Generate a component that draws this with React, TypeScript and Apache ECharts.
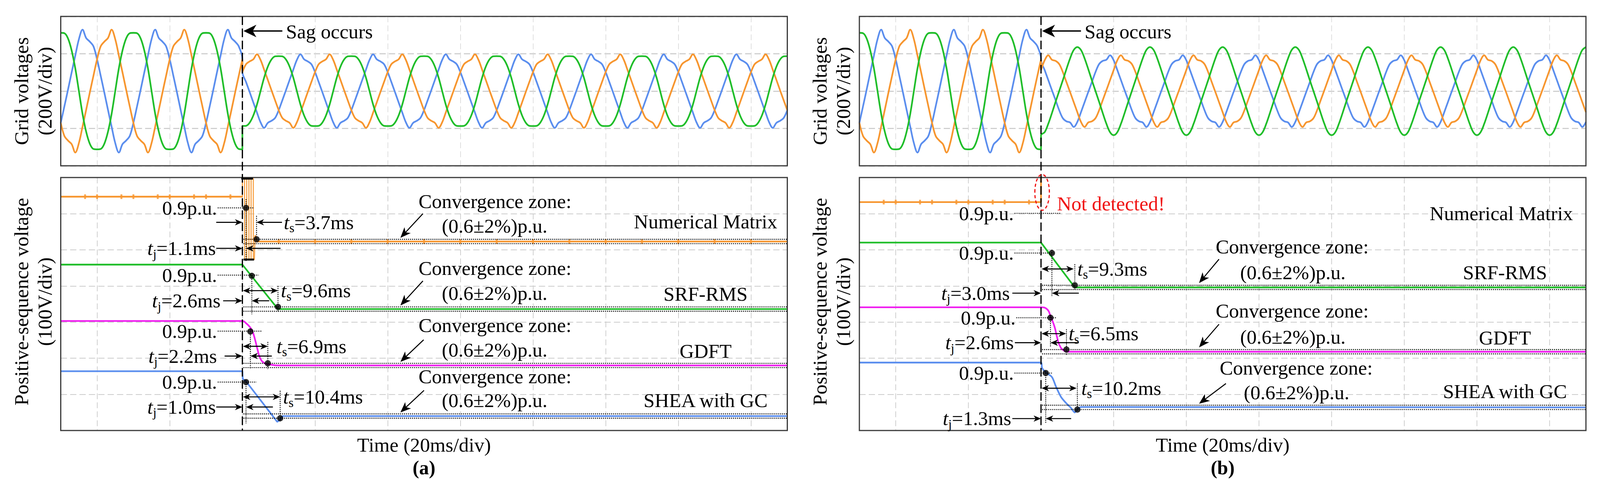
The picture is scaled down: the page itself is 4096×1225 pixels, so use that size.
import React, { useEffect, useRef } from "react";
import * as echarts from "echarts";

const FONT = '"Liberation Serif", "Times New Roman", Times, serif';
const FS = 51;
const FS_SUB = 33;

const ORANGE = "#F7962F";
const BLUE = "#5B8EEE";
const GREEN = "#20BE2A";
const MAGENTA = "#F020F0";
const RED = "#F01212";

// time axis in ms, sag at t = 0 (20 ms/div)
const T_MIN = -50;
const T_MAX = 150;
const T_DIV = 20;

// ---------- grid voltages (V): one period, 1 ms apart, starting at each phase crest
const blueBefore = [329, 284, 265, 240, 170, 82, -8, -100, -190, -278, -329, -284, -265, -240, -170, -82, 8, 100, 190, 278];
const orangeBefore = [329, 278, 190, 100, 8, -82, -170, -240, -265, -284, -329, -278, -190, -100, -8, 82, 170, 240, 265, 284];
const greenBefore = [312, 310, 282, 218, 122, 0, -122, -218, -282, -310, -312, -310, -282, -218, -122, 0, 122, 218, 282, 310];

const blueAfterA = [197, 170, 159, 144, 102, 49, -5, -60, -114, -167, -197, -170, -159, -144, -102, -49, 5, 60, 114, 167];
const orangeAfterA = [197, 167, 114, 60, 5, -49, -102, -144, -159, -170, -197, -167, -114, -60, -5, 49, 102, 144, 159, 170];
const greenAfterA = [187, 186, 169, 131, 73, 0, -73, -131, -169, -186, -187, -186, -169, -131, -73, 0, 73, 131, 169, 186];

const orangeAfterB = [192, 168, 162, 145, 102, 48, -5, -59, -113, -165, -192, -168, -162, -145, -102, -48, 5, 59, 113, 165];
const blueAfterB = [192, 165, 113, 59, 5, -48, -102, -145, -162, -168, -192, -165, -113, -59, -5, 48, 102, 145, 162, 168];
const greenAfterB = [236, 220, 175, 118, 58, 0, -58, -118, -175, -220, -236, -220, -175, -118, -58, 0, 58, 118, 175, 220];

// crest times (ms) of blue, orange, green
const crestBefore = [-44, -36, -30];
const crestAfterA = [-44, -36, -30];
const crestAfterB = [-1, 2, 10];

// ---------- positive-sequence voltage traces (V, displayed with offsets)
const nmPreA = [[-50, 647], [0, 647]];
const nmBandA = [[0, 647], [0, 697], [0.6, 697], [0.6, 473], [1.2, 473], [1.2, 697], [1.8, 697], [1.8, 473], [2.4, 473], [2.4, 697], [3.0, 697], [3.0, 473], [3.3, 473], [3.5, 540]];
const nmPostA = [[3.5, 540], [3.8, 528], [4.1, 523], [150, 523]];
const srfA = [[-50, 459], [0, 459], [9.8, 336], [150, 336]];
const gdftA = [[-50, 303], [0, 303], [1.0, 297], [2.1, 286], [2.8, 274], [3.5, 251], [4.2, 223], [4.9, 200], [6.0, 187], [7.4, 183], [10.2, 180], [150, 180]];
const sheaA = [[-50, 164], [0, 164], [0.1, 143], [1.0, 136], [9.6, 24], [10.4, 30], [11.0, 40], [150, 40]];

const nmB = [[-50, 632], [0, 632], [0, 760]];
const srfB = [[-50, 520], [0, 520], [9.3, 396], [150, 396]];
const gdftB = [[-50, 341], [0, 341], [1.5, 337], [2.8, 312], [3.7, 288], [4.4, 259], [5.1, 236], [6.2, 222], [7.6, 218], [150, 218]];
const sheaB = [[-50, 188], [0, 188], [0.3, 173], [1.3, 161], [3.0, 148], [4.1, 122], [5.5, 93], [6.9, 76], [8.3, 62], [9.3, 50], [10.0, 59], [11.1, 65], [150, 64]];

const nmMarksPre = [-43.3, -40, -33.3, -30, -23.3, -20, -13.3, -10, -3.3];
const nmMarksPostA = [10, 20, 30, 40, 50, 60, 70, 80, 90, 100, 110, 120, 130, 140];
const nmLevelPreA = 647;
const nmLevelPostA = 523;
const nmLevelPreB = 632;
const ZONE = 6; // ±2 % of 1 p.u. (≈310 V)

const methodNames = ["Numerical Matrix", "SRF-RMS", "GDFT", "SHEA with GC"];

// ---------- annotation layout (data coordinates of each plot)
const annA = [
  { label09: [-7.0, 616], leader: [-6.8, 3.0], dots: [[1.0, 616], [3.9, 529]], vlines: [[1.0, 640, 469], [3.9, 594, 526]],
    ts: { mode: "out", v: 576, tailL: -7.2, tip: 3.9, tailR: 10.9, textT: 11.4, value: "=3.7ms" },
    tj: { v: 504, textT: -7.3, tailL: -7.2, tip: 1.0, tailR: 10.5, value: "=1.1ms" },
    zone: 523, conv: { arrow: [49.7, 600, 43.5, 533], l1: [48.5, 634], l2: [54.9, 566] }, method: [127.5, 578] },
  { label09: [-7.0, 430], leader: [-6.8, 4.5], dots: [[2.6, 428], [9.8, 342]], vlines: [[2.6, 436, 322], [9.8, 400, 330]],
    ts: { mode: "in", v: 387, tip: 9.8, textT: 10.6, value: "=9.6ms" },
    tj: { v: 359, textT: -6.0, tailL: -5.3, tip: 2.6, tailR: 7.4, value: "=2.6ms" },
    zone: 336, conv: { arrow: [49.7, 414, 43.5, 346], l1: [48.5, 449], l2: [54.9, 380] }, method: [127.5, 378] },
  { label09: [-7.0, 275], leader: [-6.8, 5.3], dots: [[2.2, 274], [7.0, 186]], vlines: [[2.2, 282, 170], [7.0, 245, 170]],
    ts: { mode: "in", v: 233, tip: 7.0, textT: 9.4, value: "=6.9ms" },
    tj: { v: 206, textT: -7.0, tailL: -4.9, tip: 2.2, tailR: 8.1, value: "=2.2ms" },
    zone: 180, conv: { arrow: [49.9, 251, 43.5, 190], l1: [48.5, 291], l2: [54.9, 223] }, method: [127.5, 220] },
  { label09: [-7.0, 134], leader: [-6.8, 3.9], dots: [[1.0, 134], [10.4, 34]], vlines: [[1.0, 140, 20], [10.4, 110, 25]],
    ts: { mode: "in", v: 93, tip: 10.4, textT: 11.2, value: "=10.4ms" },
    tj: { v: 65, textT: -7.3, tailL: -7.2, tip: 1.0, tailR: 8.4, value: "=1.0ms" },
    zone: 40, conv: { arrow: [50, 111, 43.5, 50], l1: [48.5, 149], l2: [54.9, 83] }, method: [127.5, 83] },
];

const annB = [
  { label09: [-7.5, 601], leader: [-7.3, 5.4], method: [126.7, 600] },
  { label09: [-7.5, 491], leader: [-7.3, 3.5], dots: [[3.0, 491], [9.3, 402]], vlines: [[3.0, 500, 370], [9.3, 460, 390]],
    ts: { mode: "in", v: 447, tip: 9.0, textT: 10.0, value: "=9.3ms" },
    tj: { v: 380, textT: -8.6, tailL: -7.9, tip: 3.0, tailR: 10.4, value: "=3.0ms" },
    zone: 396, conv: { arrow: [49, 474, 43.5, 408], l1: [48.1, 508], l2: [54.8, 437] }, method: [127.7, 437] },
  { label09: [-7.0, 312], leader: [-6.8, 4.1], dots: [[2.6, 312], [7.0, 224]], vlines: [[2.6, 320, 232], [7.0, 280, 210]],
    ts: { mode: "in", v: 268, tip: 6.9, textT: 7.6, value: "=6.5ms" },
    tj: { v: 243, textT: -7.5, tailL: -7.2, tip: 2.6, tailR: 10.4, value: "=2.6ms" },
    zone: 218, conv: { arrow: [49, 294, 43.5, 230], l1: [48.1, 331], l2: [54.8, 259] }, method: [127.7, 256] },
  { label09: [-7.5, 159], leader: [-7.3, 3.0], dots: [[1.3, 159], [10.0, 58]], vlines: [[1.3, 165, 20], [10.0, 130, 55]],
    ts: { mode: "in", v: 117, tip: 9.8, textT: 11.1, value: "=10.2ms" },
    tj: { v: 33, textT: -8.2, tailL: -7.9, tip: 1.3, tailR: 8.3, value: "=1.3ms" },
    zone: 64, conv: { arrow: [50.9, 130, 43.5, 74], l1: [49.2, 173], l2: [55.8, 105] }, method: [127.7, 108] },
];

// ---------- layout (px)
const LEFT_A = 155.5;
const LEFT_B = 2200;
const GW = 1860;
const TOP_Y = 42;
const TOP_H = 382;
const BOT_Y = 454;
const BOT_H = 647;

function tile(period: number[], crest: number, from: number, to: number) {
  const pts: number[][] = [];
  for (let t = from; t <= to; t += 1) {
    const k = (((t - crest) % 20) + 20) % 20;
    pts.push([t, period[k]]);
  }
  return pts;
}

function wave(before: number[], cb: number, after: number[], ca: number) {
  return tile(before, cb, T_MIN, 0).concat(tile(after, ca, 0, T_MAX));
}

function buildOption() {
  const grids = [
    { left: LEFT_A, top: TOP_Y, width: GW, height: TOP_H },
    { left: LEFT_A, top: BOT_Y, width: GW, height: BOT_H },
    { left: LEFT_B, top: TOP_Y, width: GW, height: TOP_H },
    { left: LEFT_B, top: BOT_Y, width: GW, height: BOT_H },
  ];
  const xAxes = grids.map((_, i) => ({
    gridIndex: i, type: "value", min: T_MIN, max: T_MAX, interval: T_DIV,
    axisLine: { show: false }, axisTick: { show: false }, axisLabel: { show: false },
    splitLine: { show: false },
    minorTick: { show: false, splitNumber: 2 },
    minorSplitLine: { show: true, lineStyle: { color: i % 2 === 0 ? "#d9d9d9" : "#cccccc", width: i % 2 === 0 ? 1.6 : 1.8, type: [15, 8] } },
  }));
  const yAxes = grids.map((_, i) => {
    const top = i % 2 === 0;
    return {
      gridIndex: i, type: "value", min: top ? -400 : 0, max: top ? 400 : 700, interval: top ? 200 : 100,
      axisLine: { show: false }, axisTick: { show: false }, axisLabel: { show: false },
      splitLine: { show: true, lineStyle: { color: top ? "#c8c8c8" : "#cccccc", width: top ? 2.6 : 1.8, type: [16, 8] } },
    };
  });
  const ln = (ai: number, data: number[][], color: string, smooth: any = false, width = 4.3) => ({
    type: "line", xAxisIndex: ai, yAxisIndex: ai, data, showSymbol: false, symbol: "none", smooth,
    lineStyle: { color, width }, itemStyle: { color }, silent: true, z: 3, clip: true,
  });
  const dots = (ai: number, ann: any[]) => ({
    type: "scatter", xAxisIndex: ai, yAxisIndex: ai, symbol: "circle", symbolSize: 16, silent: true, z: 20,
    itemStyle: { color: "#000" },
    data: ann.flatMap((a) => a.dots || []),
  });
  const marks = (ai: number, data: number[][]) => ({
    type: "scatter", xAxisIndex: ai, yAxisIndex: ai, symbol: "rect", symbolSize: [5, 12], silent: true, z: 4,
    itemStyle: { color: ORANGE }, data,
  });
  const series = [
    ln(0, wave(blueBefore, crestBefore[0], blueAfterA, crestAfterA[0]), BLUE, 0.35),
    ln(0, wave(orangeBefore, crestBefore[1], orangeAfterA, crestAfterA[1]), ORANGE, 0.35),
    ln(0, wave(greenBefore, crestBefore[2], greenAfterA, crestAfterA[2]), GREEN, 0.35),
    ln(2, wave(blueBefore, crestBefore[0], blueAfterB, crestAfterB[0]), BLUE, 0.35),
    ln(2, wave(orangeBefore, crestBefore[1], orangeAfterB, crestAfterB[1]), ORANGE, 0.35),
    ln(2, wave(greenBefore, crestBefore[2], greenAfterB, crestAfterB[2]), GREEN, 0.35),
    ln(1, nmPreA, ORANGE), ln(1, nmBandA, ORANGE, false, 2.4), ln(1, nmPostA, ORANGE),
    ln(1, srfA, GREEN), ln(1, gdftA, MAGENTA, 0.5), ln(1, sheaA, BLUE),
    ln(3, nmB, ORANGE), ln(3, srfB, GREEN), ln(3, gdftB, MAGENTA, 0.5), ln(3, sheaB, BLUE, 0.3),
    marks(1, nmMarksPre.map((t) => [t, nmLevelPreA]).concat(nmMarksPostA.map((t) => [t, nmLevelPostA]))),
    marks(3, nmMarksPre.map((t) => [t, nmLevelPreB])),
    dots(1, annA), dots(3, annB),
  ];
  return { animation: false, backgroundColor: "#fff", grid: grids, xAxis: xAxes, yAxis: yAxes, series };
}

function buildGraphics(chart: any) {
  const els: any[] = [];
  const P = (g: number, t: number, v: number) => chart.convertToPixel({ gridIndex: g }, [t, v]) as number[];
  const seg = (a: number[], b: number[], style: any = {}) =>
    els.push({ type: "line", z: 100, silent: true, shape: { x1: a[0], y1: a[1], x2: b[0], y2: b[1] }, style: { stroke: "#000", lineWidth: 2, ...style } });
  const dotted = (a: number[], b: number[], w = 2.2) => seg(a, b, { lineWidth: w, lineDash: [2.6, 2.6] });
  const head = (tail: number[], tip: number[], L: number, hw: number) => {
    const dx = tip[0] - tail[0], dy = tip[1] - tail[1];
    const len = Math.hypot(dx, dy) || 1;
    const ux = dx / len, uy = dy / len, nx = -uy, ny = ux;
    const bx = tip[0] - ux * L, by = tip[1] - uy * L;
    const mx = tip[0] - ux * L * 0.72, my = tip[1] - uy * L * 0.72;
    els.push({ type: "polygon", z: 101, silent: true, shape: { points: [[tip[0], tip[1]], [bx + nx * hw, by + ny * hw], [mx, my], [bx - nx * hw, by - ny * hw]] }, style: { fill: "#000" } });
    return [mx, my];
  };
  const arrow = (tail: number[], tip: number[], L = 19, hw = 8, lw = 2.6) => {
    const m = head(tail, tip, L, hw);
    seg(tail, m, { lineWidth: lw });
  };
  const dArrow = (a: number[], b: number[], L = 19, hw = 8, lw = 2.6) => {
    const m1 = head(b, a, L, hw);
    const m2 = head(a, b, L, hw);
    seg(m1, m2, { lineWidth: lw });
  };
  const txt = (p: number[], text: string, align: string, extra: any = {}) =>
    els.push({ type: "text", x: p[0], y: p[1], z: 102, silent: true,
      style: { text, fontFamily: FONT, fontSize: FS, fill: "#000", align, verticalAlign: "middle", textAlign: align, textVerticalAlign: "middle", ...extra } });
  const tLabel = (p: number[], sub: string, rest: string, align: string) =>
    els.push({ type: "text", x: p[0], y: p[1], z: 102, silent: true,
      style: {
        text: `{i|t}{s|${sub}}{n|${rest}}`, align, verticalAlign: "middle", textAlign: align, textVerticalAlign: "middle",
        rich: {
          i: { fontFamily: FONT, fontSize: FS, fontStyle: "italic", lineHeight: 62, fill: "#000" },
          s: { fontFamily: FONT, fontSize: FS_SUB, lineHeight: 30, verticalAlign: "bottom", fill: "#000" },
          n: { fontFamily: FONT, fontSize: FS, lineHeight: 62, fill: "#000" },
        },
      } });

  // plot borders
  for (let g = 0; g < 4; g++) {
    const top = g % 2 === 0;
    const a = P(g, T_MIN, top ? 400 : 700), b = P(g, T_MAX, top ? -400 : 0);
    els.push({ type: "rect", z: 95, silent: true, shape: { x: a[0], y: a[1], width: b[0] - a[0], height: b[1] - a[1] }, style: { fill: "none", stroke: "#3a3a3a", lineWidth: 3 } });
  }

  const panels = [
    { gt: 0, gb: 1, ann: annA, label: "(a)" },
    { gt: 2, gb: 3, ann: annB, label: "(b)" },
  ];
  panels.forEach((pn) => {
    const { gt, gb, ann } = pn;
    // sag line
    seg(P(gt, 0, 400), P(gb, 0, 0), { lineWidth: 3.2, lineDash: [22, 9] });
    arrow(P(gt, 11, 322), P(gt, 0.3, 322), 33, 16, 3.7);
    txt(P(gt, 12, 318), "Sag occurs", "left");

    // axis titles
    const tl = P(gt, T_MIN, 0);
    els.push({ type: "text", x: tl[0] - 71, y: tl[1], rotation: Math.PI / 2, z: 102, silent: true,
      style: { text: "Grid voltages\n(200V/div)", fontFamily: FONT, fontSize: FS, lineHeight: 60, fill: "#000", align: "center", verticalAlign: "middle", textAlign: "center", textVerticalAlign: "middle" } });
    const bl = P(gb, T_MIN, 350);
    els.push({ type: "text", x: bl[0] - 71, y: bl[1] - 6, rotation: Math.PI / 2, z: 102, silent: true,
      style: { text: "Positive-sequence voltage\n(100V/div)", fontFamily: FONT, fontSize: FS, lineHeight: 60, fill: "#000", align: "center", verticalAlign: "middle", textAlign: "center", textVerticalAlign: "middle" } });
    const bc = P(gb, 50, 0);
    txt([bc[0], bc[1] + 37], "Time (20ms/div)", "center");
    txt([bc[0], bc[1] + 95], pn.label, "center", { fontWeight: "bold", fontSize: 50 });

    ann.forEach((a: any, i: number) => {
      txt(P(gb, a.label09[0], a.label09[1]), "0.9p.u.", "right");
      dotted(P(gb, a.leader[0], a.label09[1]), P(gb, a.leader[1], a.label09[1]));
      (a.vlines || []).forEach((vl: number[]) => dotted(P(gb, vl[0], vl[1]), P(gb, vl[0], vl[2])));
      if (a.zone !== undefined) {
        dotted(P(gb, 0.3, a.zone + ZONE), P(gb, T_MAX, a.zone + ZONE), 2.4);
        dotted(P(gb, 0.3, a.zone - ZONE), P(gb, T_MAX, a.zone - ZONE), 2.4);
      }
      if (a.ts) {
        const s = a.ts;
        if (s.mode === "out") {
          arrow(P(gb, s.tailL, s.v), P(gb, 0, s.v));
          arrow(P(gb, s.tailR, s.v), P(gb, s.tip, s.v));
        } else {
          dArrow(P(gb, 0.15, s.v), P(gb, s.tip, s.v));
        }
        tLabel(P(gb, s.textT, s.v), "s", s.value, "left");
      }
      if (a.tj) {
        const j = a.tj;
        arrow(P(gb, j.tailL, j.v), P(gb, 0, j.v));
        arrow(P(gb, j.tailR, j.v), P(gb, j.tip, j.v));
        tLabel(P(gb, j.textT, j.v), "j", j.value, "right");
      }
      if (a.conv) {
        const c = a.conv;
        arrow(P(gb, c.arrow[0], c.arrow[1]), P(gb, c.arrow[2], c.arrow[3]), 27, 11, 2.6);
        txt(P(gb, c.l1[0], c.l1[1]), "Convergence zone:", "left");
        txt(P(gb, c.l2[0], c.l2[1]), "(0.6±2%)p.u.", "left");
      }
      txt(P(gb, a.method[0], a.method[1]), methodNames[i], "center");
    });
  });

  // dense oscillation caps of the Numerical Matrix trace in (a)
  seg(P(1, -0.3, 697), P(1, 2.9, 697), { lineWidth: 5 });
  seg(P(1, 0.3, 473), P(1, 3.2, 473), { lineWidth: 5 });

  // "Not detected!" in (b)
  const c0 = P(3, 0.3, 659), cx = P(3, 2.3, 659), cy = P(3, 0.3, 708.5);
  els.push({ type: "ellipse", z: 103, silent: true, shape: { cx: c0[0], cy: c0[1], rx: Math.abs(cx[0] - c0[0]), ry: Math.abs(c0[1] - cy[1]) },
    style: { fill: "none", stroke: RED, lineWidth: 3, lineDash: [8, 6] } });
  txt(P(3, 4.4, 628), "Not detected!", "left", { fill: RED });
  return els;
}

export default function App() {
  const ref = useRef<HTMLDivElement>(null);
  useEffect(() => {
    const chart = echarts.init(ref.current as HTMLDivElement, undefined, { renderer: "svg" });
    chart.setOption(buildOption() as any);
    chart.setOption({ graphic: buildGraphics(chart) } as any);
    return () => chart.dispose();
  }, []);
  return <div ref={ref} style={{ position: "fixed", left: 0, top: 0, width: 4096, height: 1225, background: "#fff" }} />;
}
